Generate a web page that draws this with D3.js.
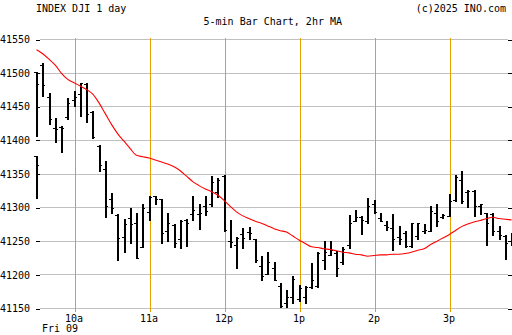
<!DOCTYPE html>
<html><head><meta charset="utf-8">
<script src="https://cdn.jsdelivr.net/npm/d3@7/dist/d3.min.js"></script>
<style>
body{margin:0;background:#fff}
svg{display:block}
text{font-family:"DejaVu Sans Mono",monospace;font-size:10px;fill:#000}
</style></head><body><div id="c"></div>
<script>
const title = "INDEX DJI 1 day";
const subtitle = "5-min Bar Chart, 2hr MA";
const credit = "(c)2025 INO.com";
const dateLabel = "Fri 09";

// bar time slots (first entry is the prior-session bar drawn in the 09:30 slot)
const barTimes = ("09:30 09:30 09:35 09:40 09:45 09:50 09:55 10:00 10:05 10:10 10:15 10:20 10:25 " +
  "10:30 10:35 10:40 10:45 10:50 10:55 11:00 11:05 11:10 11:15 11:20 11:25 " +
  "11:30 11:35 11:40 11:45 11:50 11:55 12:00 12:05 12:10 12:15 12:20 12:25 " +
  "12:30 12:35 12:40 12:45 12:50 12:55 13:00 13:05 13:10 13:15 13:20 13:25 " +
  "13:30 13:35 13:40 13:45 13:50 13:55 14:00 14:05 14:10 14:15 14:20 14:25 " +
  "14:30 14:35 14:40 14:45 14:50 14:55 15:00 15:05 15:10 15:15 15:20 15:25 " +
  "15:30 15:35 15:40 15:45 15:50").split(" ");

const opens  = [41376,41501,41511,41464,41418,41419,41434,41460,41468,41483,41441,41391,41357,41312,41289,41256,41284,41277,41241,41293,41316,41312,41265,41274,41253,41281,41290,41290,41301,41305,41323,41347,41250,41244,41260,41263,41252,41212,41201,41209,41182,41157,41166,41164,41167,41181,41182,41221,41229,41232,41218,41243,41280,41286,41279,41305,41284,41273,41269,41256,41262,41242,41257,41264,41265,41291,41285,41287,41310,41341,41322,41324,41302,41291,41290,41264,41257,41249];
const highs  = [41376,41501,41514,41469,41433,41420,41463,41472,41485,41484,41443,41392,41369,41321,41290,41282,41299,41291,41304,41316,41317,41312,41292,41275,41281,41283,41317,41304,41317,41347,41344,41348,41281,41256,41269,41270,41253,41227,41234,41219,41187,41177,41198,41184,41183,41217,41234,41249,41249,41235,41241,41289,41296,41287,41314,41311,41291,41279,41290,41272,41265,41277,41277,41275,41301,41305,41290,41320,41348,41354,41325,41326,41305,41292,41292,41272,41259,41262];
const lows   = [41313,41406,41465,41423,41397,41382,41431,41450,41436,41426,41403,41353,41285,41292,41221,41234,41246,41224,41241,41281,41305,41246,41250,41240,41239,41242,41281,41268,41289,41301,41315,41265,41241,41210,41239,41253,41218,41192,41200,41192,41152,41152,41157,41161,41158,41179,41181,41208,41229,41198,41216,41239,41279,41260,41277,41292,41279,41266,41236,41245,41241,41241,41253,41261,41264,41272,41284,41287,41309,41306,41300,41287,41290,41244,41259,41253,41223,41244];
const closes = [41362,41483,41481,41431,41416,41417,41455,41464,41484,41439,41404,41362,41302,41299,41254,41275,41275,41224,41299,41315,41312,41261,41277,41246,41280,41276,41296,41292,41294,41338,41341,41266,41248,41254,41254,41261,41222,41198,41219,41192,41153,41167,41193,41179,41181,41192,41232,41234,41236,41210,41238,41277,41286,41281,41301,41293,41279,41270,41252,41253,41242,41277,41276,41266,41294,41279,41289,41309,41345,41309,41324,41302,41304,41277,41264,41258,41246,41249];

// 2hr moving average, one value per session bar (09:30 .. 15:50)
const maTimes = barTimes.slice(1);
const maValues = [41534,41528,41520,41511,41499,41490,41485,41480,41475,41468,41455,41439,41423,41409,41398,41387,41377,41375,41373,41370,41367,41364,41360,41354,41346,41338,41332,41327,41323,41318,41310,41301,41293,41287,41283,41279,41276,41272,41268,41265,41263,41257,41251,41246,41241,41240,41238,41237,41235,41233,41232,41230,41229,41227,41228,41229,41229,41230,41230,41231,41233,41236,41238,41244,41249,41254,41259,41265,41271,41275,41278,41280,41283,41285,41283,41282,41281];

const yTicks = [41150,41200,41250,41300,41350,41400,41450,41500,41550];
const hourTimes = ["10:00","11:00","12:00","13:00","14:00","15:00"];
const hourLabels = ["10a","11a","12p","1p","2p","3p"];

const W = 512, H = 335;
const mins = s => { const [h, m] = s.split(":").map(Number); return h * 60 + m - 570; };

const x = d3.scaleLinear().domain([0, 390]).range([38, 525.5]);
const y = d3.scaleLinear().domain([41150, 41550]).range([308, 39]);

const svg = d3.select("#c").append("svg").attr("width", W).attr("height", H);

// horizontal grid
svg.append("g").selectAll("line").data(yTicks).join("line")
  .attr("x1", 40).attr("x2", 508)
  .attr("y1", d => Math.round(y(d)) + 0.5).attr("y2", d => Math.round(y(d)) + 0.5)
  .attr("stroke", "#c0c0c0").attr("stroke-width", 1).attr("shape-rendering", "crispEdges");

// hour lines
svg.append("g").selectAll("line").data(hourTimes).join("line")
  .attr("x1", d => Math.floor(x(mins(d))) + 0.5).attr("x2", d => Math.floor(x(mins(d))) + 0.5)
  .attr("y1", 38).attr("y2", 312)
  .attr("stroke", "#e6a100").attr("stroke-width", 1).attr("shape-rendering", "crispEdges");

// y axes
const yl = svg.append("g").attr("transform", "translate(40,0.5)")
  .call(d3.axisLeft(y).tickValues(yTicks).tickSizeInner(4).tickSizeOuter(0).tickPadding(6).tickFormat(d3.format("d")));
yl.select(".domain").remove();
yl.selectAll("line").attr("stroke", "#000").attr("shape-rendering", "crispEdges");
yl.selectAll("text").attr("font-family", "DejaVu Sans Mono").attr("font-size", 10).attr("fill", "#000");

const yr = svg.append("g").attr("transform", "translate(508,0.5)")
  .call(d3.axisRight(y).tickValues(yTicks).tickSizeInner(4).tickSizeOuter(0).tickFormat(""));
yr.select(".domain").remove();
yr.selectAll("line").attr("stroke", "#000").attr("shape-rendering", "crispEdges");

// x axis labels
const xa = svg.append("g").attr("transform", "translate(0,308)")
  .call(d3.axisBottom(x).tickValues(hourTimes.map(mins)).tickSize(0).tickPadding(7)
    .tickFormat((d, i) => hourLabels[i]));
xa.select(".domain").remove();
xa.selectAll("text").attr("x", -2).attr("font-family", "DejaVu Sans Mono").attr("font-size", 10).attr("fill", "#000");

svg.append("text").attr("x", 42).attr("y", 332).text(dateLabel);

// bars
const bars = barTimes.map((t, i) => ({t, o: opens[i], h: highs[i], l: lows[i], c: closes[i]}));
const bx = d => Math.round(x(mins(d.t)) - 2);
const g = svg.append("g").attr("shape-rendering", "crispEdges").attr("fill", "#000");
g.selectAll("rect.v").data(bars).join("rect").attr("class", "v")
  .attr("x", d => bx(d)).attr("width", 1.5)
  .attr("y", d => Math.round(y(d.h)))
  .attr("height", d => Math.max(1, Math.round(y(d.l)) - Math.round(y(d.h)) + 1));
g.selectAll("rect.o").data(bars).join("rect").attr("class", "o")
  .attr("x", d => bx(d) - 2).attr("width", 2)
  .attr("y", d => Math.round(y(d.o))).attr("height", 1);
g.selectAll("rect.c").data(bars).join("rect").attr("class", "c")
  .attr("x", d => bx(d) + 1).attr("width", 2)
  .attr("y", d => Math.round(y(d.c))).attr("height", 1);

// moving average
const ma = maTimes.map((t, i) => ({t, v: maValues[i]}));
svg.append("path").datum(ma)
  .attr("fill", "none").attr("stroke", "#ff0000").attr("stroke-width", 1.1)
  .attr("d", d3.line().x(d => x(mins(d.t)) - 1.5).y(d => y(d.v)).curve(d3.curveMonotoneX));

// titles
svg.append("text").attr("x", 36).attr("y", 12).text(title);
svg.append("text").attr("x", 342).attr("y", 25).attr("text-anchor", "end").text(subtitle);
svg.append("text").attr("x", 506).attr("y", 12).attr("text-anchor", "end").text(credit);
</script></body></html>
